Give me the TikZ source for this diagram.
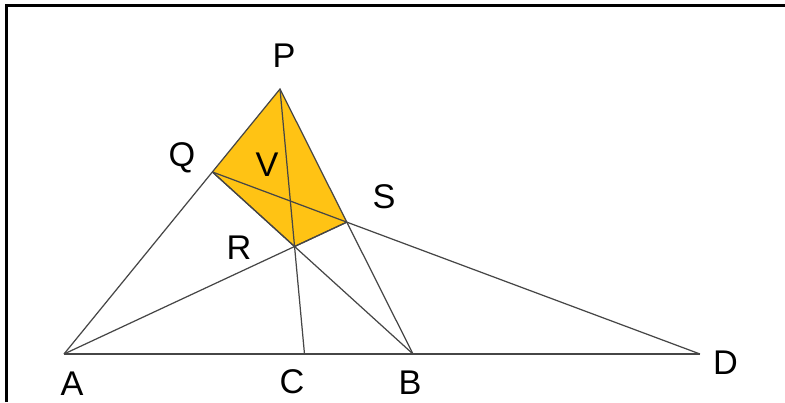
\documentclass[tikz,border=0pt]{standalone}
\usepackage{fontspec}
\setmainfont{Liberation Sans}
\usepackage{xcolor}
\usepackage{tikz}
\usetikzlibrary{calc}

\definecolor{quadfill}{RGB}{255,195,20}
\definecolor{segcol}{RGB}{70,70,70}

\begin{document}
\begin{tikzpicture}[seg/.style={draw=segcol, line width=0.7pt},
  lbl/.style={font=\fontsize{19.5}{23}\selectfont, inner sep=0pt}]
  \useasboundingbox (0,0) rectangle (15.7,8.04);

  % Frame
  \draw[line width=1.7pt] (0.13,0) |- (15.7,7.93);

  % Points
  \coordinate (A) at (1.28,0.96);
  \coordinate (B) at (8.26,0.96);
  \coordinate (D) at (14.00,0.96);
  \coordinate (P) at (5.60,6.26);
  \coordinate (Q) at ($(A)!0.687!(P)$);
  \coordinate (S) at (intersection of P--B and Q--D);
  \coordinate (R) at (intersection of A--S and Q--B);
  \coordinate (C) at (intersection of P--R and A--B);

  % Shaded quadrilateral
  \fill[quadfill] (P) -- (Q) -- (R) -- (S) -- cycle;

  % Segments
  \draw[seg] (A) -- (D);
  \draw[seg] (A) -- (P) -- (B);
  \draw[seg] (P) -- (C);
  \draw[seg] (Q) -- (D);
  \draw[seg] (A) -- (S);
  \draw[seg] (Q) -- (B);
  \draw[seg] (Q) -- (R) -- (S);

  % Labels
  \node[lbl] (lP) at (5.68,6.93) {P};
  \node[lbl] (lQ) at (3.64,4.88) {Q};
  \node[lbl] (lV) at (5.34,4.74) {V};
  \node[lbl] (lS) at (7.68,4.10) {S};
  \node[lbl] (lR) at (4.78,3.08) {R};
  \node[lbl] (lA) at (1.44,0.37) {A};
  \node[lbl] (lC) at (5.84,0.40) {C};
  \node[lbl] (lB) at (8.20,0.38) {B};
  \node[lbl] (lD) at (14.51,0.78) {D};
\end{tikzpicture}
\end{document}
